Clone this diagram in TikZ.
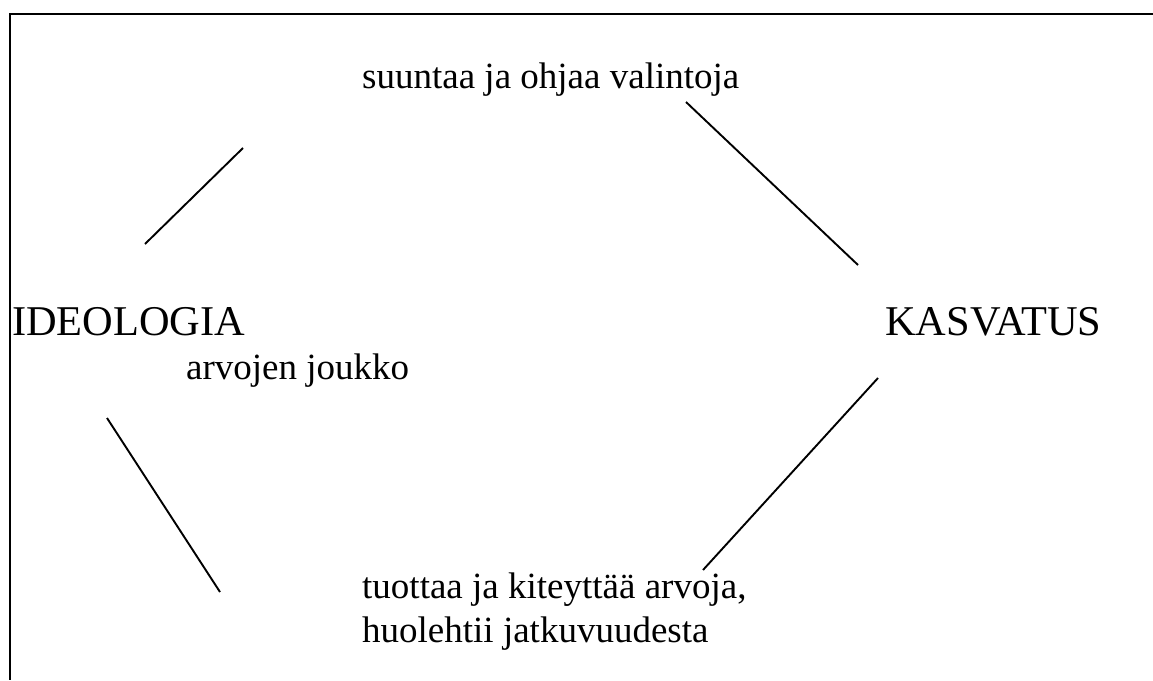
\documentclass[tikz,border=0pt]{standalone}
\usepackage{fontspec}
\setmainfont{Liberation Serif}
\begin{document}
\begin{tikzpicture}[x=1pt,y=-1pt,
  big/.style={font=\fontsize{42.4}{50}\selectfont, inner sep=0pt, anchor=base west},
  small/.style={font=\fontsize{37}{44}\selectfont, inner sep=0pt, anchor=base west, align=left},
  link/.style={line width=1.9pt},
  frame/.style={line width=2.8pt}]
\useasboundingbox (0,0) rectangle (1153,680);
\draw[frame] (1153,14) -- (10,14) -- (10,680);
\node[small] (top) at (362,88) {suuntaa ja ohjaa valintoja};
\node[big] (ideo) at (12,335) {IDEOLOGIA};
\node[big] (kasv) at (885,335) {KASVATUS};
\node[small] (arvo) at (186,379) {arvojen joukko};
\node[small] (bot) at (362,642) {tuottaa ja kiteyttää arvoja,\\huolehtii jatkuvuudesta};
\coordinate (a1) at (145,244); \coordinate (a2) at (243,148);
\coordinate (b1) at (686,102); \coordinate (b2) at (858,265);
\coordinate (c1) at (107,418); \coordinate (c2) at (220,592);
\coordinate (d1) at (878,378); \coordinate (d2) at (703,570);
\draw[link] (a1) -- (a2);
\draw[link] (b1) -- (b2);
\draw[link] (c1) -- (c2);
\draw[link] (d1) -- (d2);
\end{tikzpicture}
\end{document}
